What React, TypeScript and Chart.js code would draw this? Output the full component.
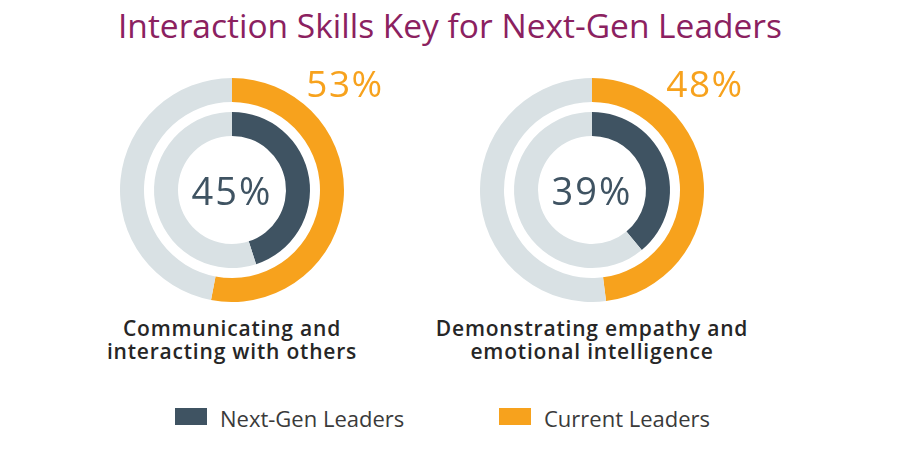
import React, { useEffect, useRef } from "react";
import { Chart, registerables } from "chart.js";

Chart.register(...registerables);

const title = "Interaction Skills Key for Next-Gen Leaders";
const categories = [
  ["Communicating and", "interacting with others"],
  ["Demonstrating empathy and", "emotional intelligence"],
];
const seriesLabels = ["Next-Gen Leaders", "Current Leaders"];
const nextGen = [45, 39];
const current = [53, 48];

const ORANGE = "#f7a21d";
const SLATE = "#3f5362";
const LIGHT = "#d9e1e4";
const FONT = "'Open Sans', 'DejaVu Sans', sans-serif";

const CENTERS = [232, 592];
const CY = 190;
const R = 112;

function Donut({ idx }: { idx: number }) {
  const ref = useRef<HTMLCanvasElement | null>(null);
  useEffect(() => {
    if (!ref.current) return;
    const chart = new Chart(ref.current, {
      type: "doughnut",
      data: {
        labels: [seriesLabels[1], "rest"],
        datasets: [
          {
            data: [current[idx], 100 - current[idx]],
            backgroundColor: [ORANGE, LIGHT],
            borderWidth: 0,
            weight: 24,
          },
          {
            data: [100],
            backgroundColor: ["rgba(0,0,0,0)"],
            borderWidth: 0,
            weight: 10,
          },
          {
            data: [nextGen[idx], 100 - nextGen[idx]],
            backgroundColor: [SLATE, LIGHT],
            borderWidth: 0,
            weight: 24,
          },
        ],
      },
      options: {
        animation: false,
        responsive: false,
        maintainAspectRatio: false,
        cutout: 54,
        hoverOffset: 0,
        events: [],
        layout: { padding: 0 },
        plugins: { legend: { display: false }, tooltip: { enabled: false } },
      } as any,
    });
    return () => chart.destroy();
  }, [idx]);
  const cx = CENTERS[idx];
  return (
    <>
      <canvas
        ref={ref}
        width={2 * R}
        height={2 * R}
        style={{ position: "absolute", left: cx - R, top: CY - R, width: 2 * R, height: 2 * R }}
      />
      <div
        style={{
          position: "absolute",
          left: cx - 80,
          width: 160,
          top: 165,
          height: 50,
          lineHeight: "50px",
          textAlign: "center",
          fontSize: 38,
          letterSpacing: 2,
          color: SLATE,
          fontFamily: FONT,
        }}
      >
        {nextGen[idx]}%
      </div>
      <div
        style={{
          position: "absolute",
          left: cx + 113 - 80,
          width: 160,
          top: 58,
          height: 50,
          lineHeight: "50px",
          textAlign: "center",
          fontSize: 37,
          letterSpacing: 1.5,
          color: ORANGE,
          fontFamily: FONT,
        }}
      >
        {current[idx]}%
      </div>
      <div
        style={{
          position: "absolute",
          left: cx - 200,
          width: 400,
          top: 317,
          textAlign: "center",
          fontSize: 21,
          letterSpacing: 0.8,
          lineHeight: "23px",
          fontWeight: 600,
          color: "#262626",
          fontFamily: FONT,
        }}
      >
        {categories[idx][0]}
        <br />
        {categories[idx][1]}
      </div>
    </>
  );
}

export default function App() {
  return (
    <div
      style={{
        position: "fixed",
        left: 0,
        top: 0,
        width: 900,
        height: 450,
        background: "#ffffff",
        overflow: "hidden",
        fontFamily: FONT,
      }}
    >
      <div
        style={{
          position: "absolute",
          left: 0,
          width: 900,
          top: 5,
          textAlign: "center",
          fontSize: 33.5,
          lineHeight: "40px",
          color: "#8b2160",
          whiteSpace: "nowrap",
        }}
      >
        {title}
      </div>
      <Donut idx={0} />
      <Donut idx={1} />
      {[
        { label: seriesLabels[0], color: SLATE, box: 175, text: 220 },
        { label: seriesLabels[1], color: ORANGE, box: 499, text: 544 },
      ].map((l) => (
        <React.Fragment key={l.label}>
          <div
            style={{
              position: "absolute",
              left: l.box,
              top: 408,
              width: 32,
              height: 17,
              background: l.color,
            }}
          />
          <div
            style={{
              position: "absolute",
              left: l.text,
              top: 405,
              lineHeight: "26px",
              fontSize: 22,
              color: "#3a3a3a",
              whiteSpace: "nowrap",
            }}
          >
            {l.label}
          </div>
        </React.Fragment>
      ))}
    </div>
  );
}
